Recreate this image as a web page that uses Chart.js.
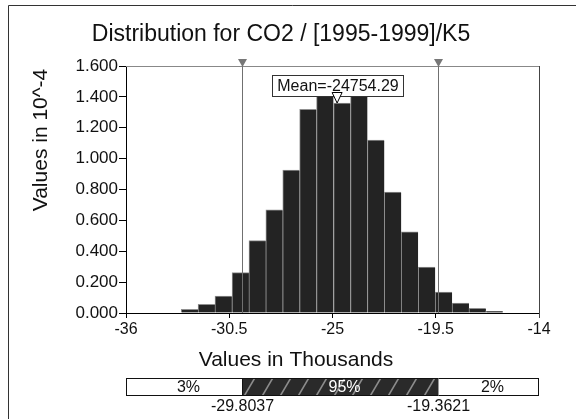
<!DOCTYPE html>
<html lang="en">
<head>
  <meta charset="UTF-8" />
  <title>Distribution for CO2 / [1995-1999]/K5</title>
  <script src="https://cdn.jsdelivr.net/npm/chart.js"></script>
  <style>
    body {
      margin: 0;
      background: #ffffff;
    }
    #wrap {
      width: 576px;
      height: 419px;
    }
  </style>
</head>
<body>
  <div id="wrap">
    <canvas id="distChart" width="576" height="419"></canvas>
  </div>

  <script>
    // histogram bins (values in thousands) and heights (in 10^-4)
    const binCenters = [-32.61, -31.71, -30.81, -29.90, -29.00, -28.10, -27.20, -26.30, -25.40, -24.49,
                        -23.59, -22.69, -21.79, -20.89, -19.98, -19.08, -18.18, -17.28, -16.38];
    const density = [0.024, 0.056, 0.110, 0.262, 0.469, 0.668, 0.925, 1.319, 1.405, 1.360,
                     1.405, 1.120, 0.783, 0.525, 0.298, 0.136, 0.065, 0.030, 0.011];

    const xTickValues = [-36, -30.5, -25, -19.5, -14];
    const yTickValues = [0, 0.2, 0.4, 0.6, 0.8, 1.0, 1.2, 1.4, 1.6];

    const meanValue = -24.75429;
    const meanText = 'Mean=-24754.29';
    const cutValues = [-29.8037, -19.3621];
    const cutLabels = ['-29.8037', '-19.3621'];
    const bandPercents = ['3%', '95%', '2%'];

    const titleText = 'Distribution for CO2 / [1995-1999]/K5';
    const xTitle = 'Values in Thousands';
    const yTitle = 'Values in 10^-4';

    const FONT = "Arial, 'Liberation Sans', Helvetica, sans-serif";
    Chart.defaults.font.family = FONT;
    Chart.defaults.color = '#000';

    function downTriangle(ctx, cx, baseY, apexY, half, fill, stroke) {
      ctx.beginPath();
      ctx.moveTo(cx - half, baseY);
      ctx.lineTo(cx + half, baseY);
      ctx.lineTo(cx, apexY);
      ctx.closePath();
      ctx.fillStyle = fill;
      ctx.fill();
      if (stroke) {
        ctx.strokeStyle = stroke;
        ctx.lineWidth = 1;
        ctx.stroke();
      }
    }

    const overlay = {
      id: 'overlay',
      afterDatasetsDraw(chart) {
        const ctx = chart.ctx;
        const xs = chart.scales.x;
        const a = chart.chartArea;
        ctx.save();

        // top and right frame of the plot
        ctx.lineWidth = 1;
        ctx.strokeStyle = '#888';
        ctx.beginPath();
        ctx.moveTo(a.left, a.top + 0.5);
        ctx.lineTo(a.right, a.top + 0.5);
        ctx.stroke();
        ctx.strokeStyle = '#444';
        ctx.beginPath();
        ctx.moveTo(a.right + 0.5, a.top);
        ctx.lineTo(a.right + 0.5, a.bottom + 5);
        ctx.stroke();

        // percentile cut lines with markers
        cutValues.forEach(v => {
          const px = Math.round(xs.getPixelForValue(v)) + 0.5;
          ctx.strokeStyle = '#707070';
          ctx.beginPath();
          ctx.moveTo(px, a.top);
          ctx.lineTo(px, a.bottom);
          ctx.stroke();
          downTriangle(ctx, px, a.top - 7, a.top + 1, 4.5, '#777', null);
        });

        // mean label and marker
        const mx = xs.getPixelForValue(meanValue);
        ctx.font = '16px ' + FONT;
        const tw = ctx.measureText(meanText).width;
        const bw = Math.round(tw + 10);
        const bx = Math.round(mx - bw / 2) + 0.5;
        const by = a.top + 9.5;
        ctx.fillStyle = '#fff';
        ctx.fillRect(bx, by, bw, 21);
        ctx.strokeStyle = '#333';
        ctx.strokeRect(bx, by, bw, 21);
        ctx.fillStyle = '#111';
        ctx.textAlign = 'center';
        ctx.textBaseline = 'middle';
        ctx.fillText(meanText, bx + bw / 2, by + 11);
        downTriangle(ctx, mx, a.top + 26.5, a.top + 37, 5, '#fff', '#000');

        ctx.restore();
      },
      afterDraw(chart) {
        const ctx = chart.ctx;
        const xs = chart.scales.x;
        const a = chart.chartArea;
        ctx.save();

        // outer frame
        ctx.strokeStyle = '#333';
        ctx.lineWidth = 1;
        ctx.beginPath();
        ctx.moveTo(8.5, chart.height);
        ctx.lineTo(8.5, 5.5);
        ctx.lineTo(chart.width, 5.5);
        ctx.stroke();

        // title
        ctx.fillStyle = '#111';
        ctx.textAlign = 'center';
        ctx.textBaseline = 'middle';
        ctx.font = '23px ' + FONT;
        ctx.fillText(titleText, 281, 35);

        // axis titles
        ctx.font = '21px ' + FONT;
        ctx.fillText(xTitle, 296, a.bottom + 47);
        ctx.save();
        ctx.translate(41, 140);
        ctx.rotate(-Math.PI / 2);
        ctx.fillText(yTitle, 0, 0);
        ctx.restore();

        // percentile band
        const top = a.bottom + 65.5;
        const h = 17;
        const x0 = Math.round(a.left) + 0.5;
        const x1 = Math.round(xs.getPixelForValue(cutValues[0])) + 0.5;
        const x2 = Math.round(xs.getPixelForValue(cutValues[1])) + 0.5;
        const x3 = Math.round(a.right) - 0.5;

        ctx.fillStyle = '#fff';
        ctx.fillRect(x0, top, x3 - x0, h);
        ctx.fillStyle = '#2a2a2a';
        ctx.fillRect(x1, top, x2 - x1, h);

        // hatching in the middle part
        ctx.save();
        ctx.beginPath();
        ctx.rect(x1, top, x2 - x1, h);
        ctx.clip();
        ctx.strokeStyle = '#8c8c8c';
        ctx.lineWidth = 1.5;
        for (let hx = x1 + 2; hx < x2; hx += 18) {
          ctx.beginPath();
          ctx.moveTo(hx, top + h);
          ctx.lineTo(hx + 10, top);
          ctx.stroke();
        }
        ctx.restore();

        ctx.lineWidth = 1;
        ctx.strokeStyle = '#111';
        ctx.strokeRect(x0, top, x3 - x0, h);
        ctx.beginPath();
        ctx.moveTo(x1, top);
        ctx.lineTo(x1, top + h);
        ctx.stroke();
        ctx.strokeStyle = '#999';
        ctx.beginPath();
        ctx.moveTo(x2, top);
        ctx.lineTo(x2, top + h);
        ctx.stroke();

        ctx.font = '16px ' + FONT;
        const mid = top + h / 2 + 1;
        ctx.fillStyle = '#111';
        ctx.fillText(bandPercents[0], (x0 + x1) / 2 + 4, mid);
        ctx.fillStyle = '#fff';
        ctx.fillText(bandPercents[1], (x1 + x2) / 2 + 4, mid);
        ctx.fillStyle = '#111';
        ctx.fillText(bandPercents[2], (x2 + x3) / 2 + 4, mid);

        ctx.fillText(cutLabels[0], x1, top + h + 11);
        ctx.fillText(cutLabels[1], x2, top + h + 11);

        ctx.restore();
      }
    };

    new Chart(document.getElementById('distChart'), {
      type: 'bar',
      data: {
        datasets: [{
          data: binCenters.map((c, i) => ({ x: c, y: density[i] })),
          backgroundColor: '#232323',
          borderColor: '#8f8f8f',
          borderWidth: { top: 1, left: 1, right: 0, bottom: 0 },
          borderSkipped: false,
          barPercentage: 1,
          categoryPercentage: 1
        }]
      },
      options: {
        responsive: false,
        animation: false,
        events: [],
        layout: { padding: { top: 66, right: 37, bottom: 0, left: 0 } },
        plugins: {
          legend: { display: false },
          title: { display: false },
          tooltip: { enabled: false }
        },
        scales: {
          x: {
            type: 'linear',
            min: -36,
            max: -14,
            offset: false,
            afterBuildTicks: s => { s.ticks = xTickValues.map(v => ({ value: v })); },
            afterFit: s => { s.height = 106; },
            ticks: {
              padding: 2,
              maxRotation: 0,
              autoSkip: false,
              font: { size: 16 },
              color: '#111',
              callback: v => String(v)
            },
            grid: { offset: false, drawOnChartArea: false, drawTicks: true, tickLength: 5, color: '#000' },
            border: { display: true, color: '#000', width: 1 }
          },
          y: {
            min: 0,
            max: 1.6,
            afterBuildTicks: s => { s.ticks = yTickValues.map(v => ({ value: v })); },
            afterFit: s => { s.width = 126; },
            ticks: {
              padding: 1,
              autoSkip: false,
              font: { size: 17 },
              color: '#111',
              callback: v => v.toFixed(3)
            },
            grid: { drawOnChartArea: false, drawTicks: true, tickLength: 7, color: '#000' },
            border: { display: true, color: '#000', width: 1 }
          }
        }
      },
      plugins: [overlay]
    });
  </script>
</body>
</html>
